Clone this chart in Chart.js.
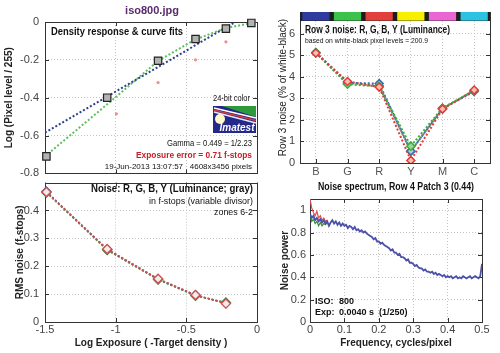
<!DOCTYPE html>
<html>
<head>
<meta charset="utf-8">
<script src="https://cdn.jsdelivr.net/npm/chart.js@4"></script>
<style>
html, body { margin: 0; padding: 0; background: #fff; }
#wrap { position: relative; width: 500px; height: 353px; overflow: hidden; }
canvas { position: absolute; }
</style>
</head>
<body>
<div id="wrap">
  <canvas id="c1" width="270" height="186" style="left:0;top:0"></canvas>
  <canvas id="c2" width="270" height="183" style="left:0;top:170px"></canvas>
  <canvas id="c3" width="230" height="180" style="left:270px;top:0"></canvas>
  <canvas id="c4" width="230" height="177" style="left:270px;top:176px"></canvas>
</div>
<script>
// density response (top left)
const zoneExp = [-1.49, -1.06, -0.70, -0.435, -0.22, -0.04];
const zonePix = [-0.71, -0.40, -0.205, -0.09, -0.035, -0.005];
const pinkExp = [-0.995, -0.70, -0.435, -0.22];
const pinkPix = [-0.485, -0.32, -0.20, -0.105];
const gammaExp = [-1.5, -0.153];
const gammaPix = [-0.585, 0.0];
const curveExp = [-1.5, -1.06, -0.70, -0.435, -0.22, 0];
const curvePix = [-0.71, -0.435, -0.206, -0.092, -0.032, 0.0];
const expTicks = [-1.5, -1, -0.5, 0];
const pixTicks = [-0.8, -0.6, -0.4, -0.2, 0];

// noise in f-stops (bottom left)
const noiseExp = [-1.49, -1.06, -0.70, -0.435, -0.22];
const noiseR = [0.466, 0.262, 0.155, 0.097, 0.066];
const noiseG = [0.464, 0.258, 0.152, 0.094, 0.070];
const noiseB = [0.468, 0.260, 0.154, 0.096, 0.068];
const noiseY = [0.466, 0.259, 0.153, 0.095, 0.068];
const stopTicks = [0, 0.1, 0.2, 0.3, 0.4];

// row 3 noise (top right)
const patchNames = ['B', 'G', 'R', 'Y', 'M', 'C'];
const patchColors = ['#2f3c9e', '#3cc24a', '#e2403c', '#f6f000', '#ea66d2', '#2cc2e2'];
const rowR = [5.10, 3.78, 3.52, 0.12, 2.50, 3.38];
const rowG = [5.12, 3.65, 3.55, 0.78, 2.55, 3.35];
const rowB = [5.12, 3.72, 3.68, 0.55, 2.52, 3.32];
const rowY = [5.10, 3.70, 3.58, 0.55, 2.53, 3.35];
const colorBarRange = [6.6, 7];
const rowTicks = [0, 1, 2, 3, 4, 5, 6];

// noise spectrum (bottom right)
const freqStep = 0.005;
const spectrumBlue = [
  0.97,0.93,0.95,0.91,0.93,0.90,0.92,0.89,0.91,0.88,
  0.90,0.86,0.89,0.91,0.88,0.90,0.87,0.89,0.86,0.88,
  0.86,0.87,0.84,0.86,0.85,0.83,0.85,0.82,0.83,0.81,
  0.82,0.80,0.81,0.79,0.78,0.77,0.76,0.74,0.75,0.72,
  0.72,0.70,0.71,0.69,0.68,0.67,0.66,0.64,0.65,0.62,
  0.62,0.60,0.61,0.58,0.58,0.57,0.55,0.56,0.53,0.53,
  0.52,0.50,0.51,0.49,0.48,0.48,0.46,0.47,0.45,0.45,
  0.44,0.45,0.43,0.44,0.42,0.43,0.42,0.41,0.42,0.40,
  0.41,0.40,0.41,0.39,0.40,0.41,0.39,0.40,0.39,0.41,
  0.40,0.39,0.40,0.41,0.39,0.40,0.41,0.40,0.39,0.41,
  0.52
];
const spectrumRed = [1.10,1.02,0.98,0.95,0.99,0.93,0.95,0.91,0.93,0.90,0.91];
const spectrumGreen = [0.95,0.90,0.92,0.88,0.90,0.86,0.89,0.86,0.88,0.87,0.89];
const freqTicks = [0, 0.1, 0.2, 0.3, 0.4, 0.5];
const powerTicks = [0, 0.2, 0.4, 0.6, 0.8, 1];

Chart.defaults.font.family = "'Liberation Sans', Arial, sans-serif";
Chart.defaults.color = '#333';
Chart.defaults.animation = false;
Chart.defaults.plugins.legend.display = false;
Chart.defaults.plugins.tooltip.enabled = false;

const FONT = "'Liberation Sans', Arial, sans-serif";

// canvas offsets on the page, notes are written in page pixels
const offsets = { c1: [0, 0], c2: [0, 170], c3: [270, 0], c4: [270, 176] };

const notes = {
  c1: [
    { t: 'iso800.jpg', x: 152, y: 11, f: 'bold 11px', c: '#5b2a6e', a: 'center' },
    { t: 'Density response & curve fits', x: 51, y: 32, f: 'bold 10px', a: 'left', w: 132 },
    { t: '24-bit color', x: 250, y: 99, f: '9px', a: 'right', w: 37 },
    { t: 'Gamma = 0.449 = 1/2.23', x: 252, y: 144, f: '9px', a: 'right', w: 85 },
    { t: 'Exposure error = 0.71 f-stops', x: 252, y: 156, f: 'bold 9px', c: '#c8202a', a: 'right', w: 116 },
    { t: '19-Jun-2013 13:07:57   4608x3456 pixels', x: 252, y: 167, f: '8px', a: 'right', w: 148 }
  ],
  c2: [
    { t: 'Noise: R, G, B, Y (Luminance; gray)', x: 253, y: 189, f: 'bold 10px', a: 'right', w: 162 },
    { t: 'in f-stops (variable divisor)', x: 253, y: 202, f: '9px', a: 'right', w: 104 },
    { t: 'zones 6-2', x: 253, y: 213, f: '9px', a: 'right', w: 39 }
  ],
  c3: [
    { t: 'Row 3 noise: R, G, B, Y (Luminance)', x: 305, y: 30, f: 'bold 10px', a: 'left', w: 145 },
    { t: 'based on white-black pixel levels = 200.9', x: 305, y: 41, f: '8px', a: 'left', w: 123 }
  ],
  c4: [
    { t: 'Noise spectrum, Row 4 Patch 3 (0.44)', x: 396, y: 187, f: 'bold 10px', a: 'center', w: 156 },
    { t: 'ISO:', x: 315, y: 302, f: 'bold 9px', a: 'left' },
    { t: '800', x: 339, y: 302, f: 'bold 9px', a: 'left' },
    { t: 'Exp:', x: 315, y: 313, f: 'bold 9px', a: 'left' },
    { t: '0.0040 s  (1/250)', x: 339, y: 313, f: 'bold 9px', a: 'left' }
  ]
};

function drawLogo(ctx, ox, oy) {
  ctx.save();
  ctx.translate(-ox, -oy);
  ctx.fillStyle = '#23288a';
  ctx.fillRect(213, 106, 43, 27);
  ctx.fillStyle = '#2f9a3a';
  ctx.beginPath();
  ctx.moveTo(222, 106); ctx.lineTo(256, 106); ctx.lineTo(256, 117);
  ctx.closePath(); ctx.fill();
  ctx.lineWidth = 1.3;
  ctx.strokeStyle = '#ffffff';
  ctx.beginPath(); ctx.moveTo(214, 108); ctx.lineTo(256, 118); ctx.stroke();
  ctx.strokeStyle = '#d83a3a';
  ctx.beginPath(); ctx.moveTo(214, 110); ctx.lineTo(256, 120.5); ctx.stroke();
  ctx.strokeStyle = '#e8e8f0';
  ctx.beginPath(); ctx.moveTo(214, 112); ctx.lineTo(256, 123); ctx.stroke();
  ctx.fillStyle = '#fff8c8';
  ctx.beginPath(); ctx.arc(220, 119, 5, 0, Math.PI * 2); ctx.fill();
  ctx.fillStyle = '#ffffff';
  ctx.font = 'italic bold 10px ' + FONT;
  ctx.textAlign = 'center';
  ctx.textBaseline = 'middle';
  ctx.fillText('Imatest', 237, 128);
  ctx.restore();
}

const frame = {
  id: 'frame',
  beforeDatasetsDraw(chart) {
    const { ctx, chartArea: a } = chart;
    ctx.save();
    ctx.strokeStyle = '#333';
    ctx.lineWidth = 1;
    ctx.strokeRect(Math.round(a.left) + 0.5, Math.round(a.top) + 0.5,
      Math.round(a.right - a.left), Math.round(a.bottom - a.top));
    ctx.beginPath();
    const xs = chart.scales.x, ys = chart.scales.y;
    xs.ticks.forEach((t, i) => {
      const px = Math.round(xs.getPixelForTick(i)) + 0.5;
      ctx.moveTo(px, a.bottom); ctx.lineTo(px, a.bottom - 4);
      ctx.moveTo(px, a.top); ctx.lineTo(px, a.top + 4);
    });
    ys.ticks.forEach((t, i) => {
      const py = Math.round(ys.getPixelForTick(i)) + 0.5;
      ctx.moveTo(a.left, py); ctx.lineTo(a.left + 4, py);
      ctx.moveTo(a.right, py); ctx.lineTo(a.right - 4, py);
    });
    ctx.stroke();
    ctx.restore();
  },
  afterDraw(chart) {
    const id = chart.canvas.id;
    const [ox, oy] = offsets[id];
    const ctx = chart.ctx;
    if (id === 'c1') drawLogo(ctx, ox, oy);
    ctx.save();
    ctx.textBaseline = 'middle';
    (notes[id] || []).forEach(n => {
      ctx.font = n.f + ' ' + FONT;
      ctx.fillStyle = n.c || '#111';
      ctx.textAlign = n.a;
      if (n.w) ctx.fillText(n.t, n.x - ox, n.y - oy, n.w);
      else ctx.fillText(n.t, n.x - ox, n.y - oy);
    });
    ctx.restore();
  }
};
Chart.register(frame);

const fmt = v => String(+(+v).toFixed(3));

function linAxis(min, max, ticks, size, pad, title, titlePad, isX) {
  return {
    type: 'linear', min: min, max: max,
    afterBuildTicks: s => { s.ticks = ticks.map(v => ({ value: v })); },
    afterFit: s => { if (isX) s.height = size; else s.width = size; },
    grid: { color: '#c4c4c4', drawTicks: false },
    border: { display: false, dash: [1, 2] },
    ticks: { padding: pad, font: { size: 11 }, color: '#444', callback: fmt, maxRotation: 0, display: size > 0 },
    title: title ? { display: true, text: title.text, color: '#222',
      font: { size: title.size || 10, weight: title.weight || 'bold' }, padding: titlePad } : { display: false }
  };
}

function pts(xs, ys) { return xs.map((x, i) => ({ x: x, y: ys[i] })); }

// top left: density response
new Chart(document.getElementById('c1'), {
  type: 'scatter',
  data: {
    datasets: [
      { data: pts(zoneExp, zonePix), pointStyle: 'rect', pointRadius: 5.2, backgroundColor: '#b3b3b3',
        borderColor: '#222', borderWidth: 1.2, showLine: false, clip: false },
      { data: pts(pinkExp, pinkPix), pointRadius: 1.6, backgroundColor: '#f08c8c', borderWidth: 0, showLine: false },
      { data: pts(gammaExp, gammaPix), showLine: true, pointRadius: 0, borderColor: '#2d3f90', borderWidth: 2, borderDash: [2, 2] },
      { data: pts(curveExp, curvePix), showLine: true, pointRadius: 0, borderColor: '#5cc05c', borderWidth: 2, borderDash: [2, 2] }
    ]
  },
  options: {
    responsive: false,
    layout: { padding: { top: 22, right: 13, bottom: 10, left: 0 } },
    scales: {
      x: linAxis(-1.5, 0, expTicks, 0, 0, null, 0, true),
      y: linAxis(-0.8, 0, pixTicks, 45, 6, { text: 'Log (Pixel level / 255)' }, { top: 3, bottom: 0 }, false)
    }
  }
});

// bottom left: RMS noise in f-stops
function noiseSet(ys, col, fill) {
  return { data: pts(noiseExp, ys), showLine: true, borderColor: col, borderWidth: 1.6, borderDash: [2, 2],
    pointStyle: 'rectRot', pointRadius: 4.5, pointBackgroundColor: fill, pointBorderColor: col,
    pointBorderWidth: 1.3, clip: false };
}
new Chart(document.getElementById('c2'), {
  type: 'scatter',
  data: {
    datasets: [
      noiseSet(noiseR, '#d05050', '#eeeeee'),
      noiseSet(noiseY, '#7a6a4a', '#9a9a7a'),
      noiseSet(noiseG, '#50a050', '#cccccc'),
      noiseSet(noiseB, '#5060b0', '#cccccc')
    ]
  },
  options: {
    responsive: false,
    layout: { padding: { top: 6, right: 13, bottom: 0, left: 0 } },
    scales: {
      x: linAxis(-1.5, 0, expTicks, 31, 1, { text: 'Log Exposure ( -Target density )' }, { top: 0, bottom: 4 }, true),
      y: Object.assign(linAxis(0, 0.5, stopTicks, 45, 6, { text: 'RMS noise (f-stops)' }, { top: 14, bottom: 0 }, false))
    }
  }
});

// top right: row 3 noise per patch
function rowSet(ys, col, fill, ord) {
  return { type: 'line', data: ys, order: ord, borderColor: col, borderWidth: 2, borderDash: [2, 2],
    pointStyle: 'rectRot', pointRadius: 4, pointBackgroundColor: fill, pointBorderColor: col, pointBorderWidth: 1.5 };
}
new Chart(document.getElementById('c3'), {
  type: 'bar',
  data: {
    labels: patchNames,
    datasets: [
      { data: patchNames.map(() => colorBarRange), backgroundColor: '#1e1e1e', order: 10, grouped: false,
        barPercentage: 1, categoryPercentage: 1 },
      { data: patchNames.map(() => colorBarRange), backgroundColor: patchColors, order: 9, grouped: false,
        barPercentage: 0.86, categoryPercentage: 1 },
      rowSet(rowY, '#7a7a60', '#c8c8a0', 4),
      rowSet(rowB, '#3a70b0', '#b8c8d8', 3),
      rowSet(rowG, '#3cae3c', '#9ad89a', 2),
      rowSet(rowR, '#e03a3a', '#f4c0b0', 1)
    ]
  },
  options: {
    responsive: false,
    layout: { padding: { top: 12, right: 10, bottom: 0, left: 0 } },
    scales: {
      x: {
        type: 'category', offset: true,
        afterFit: s => { s.height = 17; },
        grid: { color: '#c4c4c4', drawTicks: false, offset: false },
        border: { display: false, dash: [1, 2] },
        ticks: { padding: 2, font: { size: 11 }, color: '#555' }
      },
      y: linAxis(0, 7, rowTicks, 30, 5, { text: 'Row 3 noise (% of white-black)', weight: 'normal', size: 10 }, { top: 7, bottom: 0 }, false)
    }
  }
});

// bottom right: noise spectrum
function specSet(ys, col, w, ord) {
  return { data: ys.map((v, i) => ({ x: i * freqStep, y: v })), showLine: true, pointRadius: 0,
    borderColor: col, borderWidth: w, order: ord };
}
new Chart(document.getElementById('c4'), {
  type: 'scatter',
  data: {
    datasets: [
      specSet(spectrumBlue, '#4b50a8', 1.8, 1),
      specSet(spectrumGreen, '#3a8a3a', 1.2, 2),
      specSet(spectrumRed, '#e05050', 1.2, 3)
    ]
  },
  options: {
    responsive: false,
    layout: { padding: { top: 23, right: 18, bottom: 0, left: 0 } },
    scales: {
      x: linAxis(0, 0.5, freqTicks, 31, 1, { text: 'Frequency, cycles/pixel' }, { top: 0, bottom: 4 }, true),
      y: linAxis(0, 1.1, powerTicks, 40, 4, { text: 'Noise power' }, { top: 9, bottom: 0 }, false)
    }
  }
});
</script>
</body>
</html>
